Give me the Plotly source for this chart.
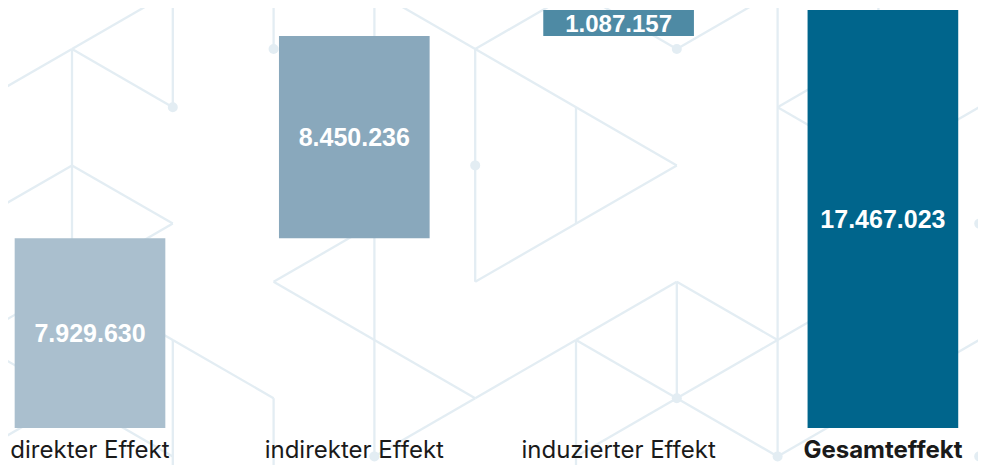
import plotly.graph_objects as go

# Werte aus der Grafik
categories = ["direkter Effekt", "indirekter Effekt", "induzierter Effekt", "Gesamteffekt"]
tick_labels = ["direkter Effekt", "indirekter Effekt", "induzierter Effekt", "<b>Gesamteffekt</b>"]
effects = [7929630, 8450236, 1087157]
total = sum(effects)  # 17.467.023
bar_colors = ["#AABFCE", "#89A8BC", "#4E8AA4", "#00658C"]
label_sizes = [25, 25, 24, 25]

# waterfall: each effect sits on top of the previous ones, total starts at 0
values = effects + [total]
bases = []
running = 0
for v in effects:
    bases.append(running)
    running += v
bases.append(0)

labels = [f"{v:,}".replace(",", ".") for v in values]

# the page body has an 8px margin, so the figure is laid out 8px smaller
OFF = 8
W, H = 986 - OFF, 465 - OFF
PLOT_BOTTOM = 428 - OFF  # figure row of the x axis
TOP_PX = 10 - OFF        # figure row of the top of the total bar
ymax = total * PLOT_BOTTOM / (PLOT_BOTTOM - TOP_PX)
step = 264.3             # pixels between category centres
xmin = -(90 - OFF) / step
xmax = xmin + W / step


# decorative network pattern in the background (triangular lattice)
def node(i, j):
    return 72 + 100.8 * i - OFF, 49 + 58.2 * j - OFF


def to_paper(px, py):
    return px / W, (PLOT_BOTTOM - py) / PLOT_BOTTOM


edges = [
    ((-1, 1), (0, 0)), ((0, 0), (1, -1)), ((0, 0), (0, 4)), ((0, 0), (1, 1)), ((1, -1), (1, 1)),
    ((-1, 3), (0, 2)), ((0, 2), (1, 3)), ((1, 3), (0, 4)),
    ((2, -2), (2, 0)), ((3, -1), (3, 1)), ((3, -1), (4, 0)), ((4, 0), (5, -1)), ((4, 0), (6, 2)),
    ((4, 0), (4, 4)), ((5, -1), (6, 0)), ((6, 0), (7, -1)), ((6, 2), (4, 4)), ((5, 1), (5, 3)),
    ((7, -1), (7, 7)), ((7, 1), (8, 0)), ((7, 1), (8, 2)), ((8, -2), (8, 0)), ((8, 2), (9, 1)),
    ((9, 1), (10, 2)), ((9, -1), (9, 7)), ((9, 5), (10, 4)), ((8, 6), (9, 5)),
    ((-1, 5), (0, 4)), ((-1, 5), (0, 6)), ((-1, 7), (0, 6)), ((0, 4), (1, 5)), ((0, 6), (1, 7)),
    ((1, 5), (1, 9)), ((1, 5), (2, 6)), ((2, 6), (2, 8)),
    ((2, 4), (4, 6)), ((2, 4), (3, 3)), ((3, 3), (3, 7)), ((4, 6), (5, 5)), ((4, 6), (3, 7)),
    ((5, 5), (5, 9)), ((5, 5), (6, 4)), ((6, 4), (7, 5)), ((6, 4), (6, 6)), ((5, 5), (6, 6)),
    ((6, 6), (7, 5)), ((6, 6), (5, 7)), ((6, 6), (7, 7)), ((7, 5), (8, 4)), ((7, 7), (8, 6)),
]
dots = [(1, 1), (2, 0), (4, 2), (6, 0), (6, 6), (7, 7), (9, 3), (9, 7), (3, 7)]

line_col = "#E3EDF3"
shapes = []
for a, b in edges:
    x0, y0 = to_paper(*node(*a))
    x1, y1 = to_paper(*node(*b))
    shapes.append(dict(type="line", xref="paper", yref="paper", x0=x0, y0=y0, x1=x1, y1=y1,
                       line=dict(color=line_col, width=2.3), layer="below"))
for d in dots:
    xp, yp = to_paper(*node(*d))
    shapes.append(dict(type="circle", xref="paper", yref="paper", xsizemode="pixel", ysizemode="pixel",
                       xanchor=xp, yanchor=yp, x0=-5, x1=5, y0=-5, y1=5,
                       fillcolor=line_col, line=dict(width=0), layer="below"))

fig = go.Figure()
fig.add_trace(go.Bar(
    x=categories, y=values, base=bases,
    marker=dict(color=bar_colors, line=dict(width=0)),
    width=0.57,
    text=labels, textposition="inside", insidetextanchor="middle", textangle=0,
    constraintext="none",
    textfont=dict(family="Liberation Sans", size=label_sizes, color="white", weight="bold"),
    hoverinfo="skip",
))

fig.update_layout(
    width=W, height=H,
    margin=dict(l=0, r=0, t=0, b=H - PLOT_BOTTOM),
    paper_bgcolor="white", plot_bgcolor="rgba(0,0,0,0)",
    showlegend=False,
    shapes=shapes,
    xaxis=dict(range=[xmin, xmax], tickmode="array", tickvals=categories, ticktext=tick_labels,
               tickfont=dict(family="Inter", size=24, color="#1a1a1a"),
               showgrid=False, zeroline=False, showline=False, ticks="", ticklabelstandoff=5),
    yaxis=dict(range=[0, ymax], visible=False, showgrid=False, zeroline=False),
)

fig.write_html("out.html")
